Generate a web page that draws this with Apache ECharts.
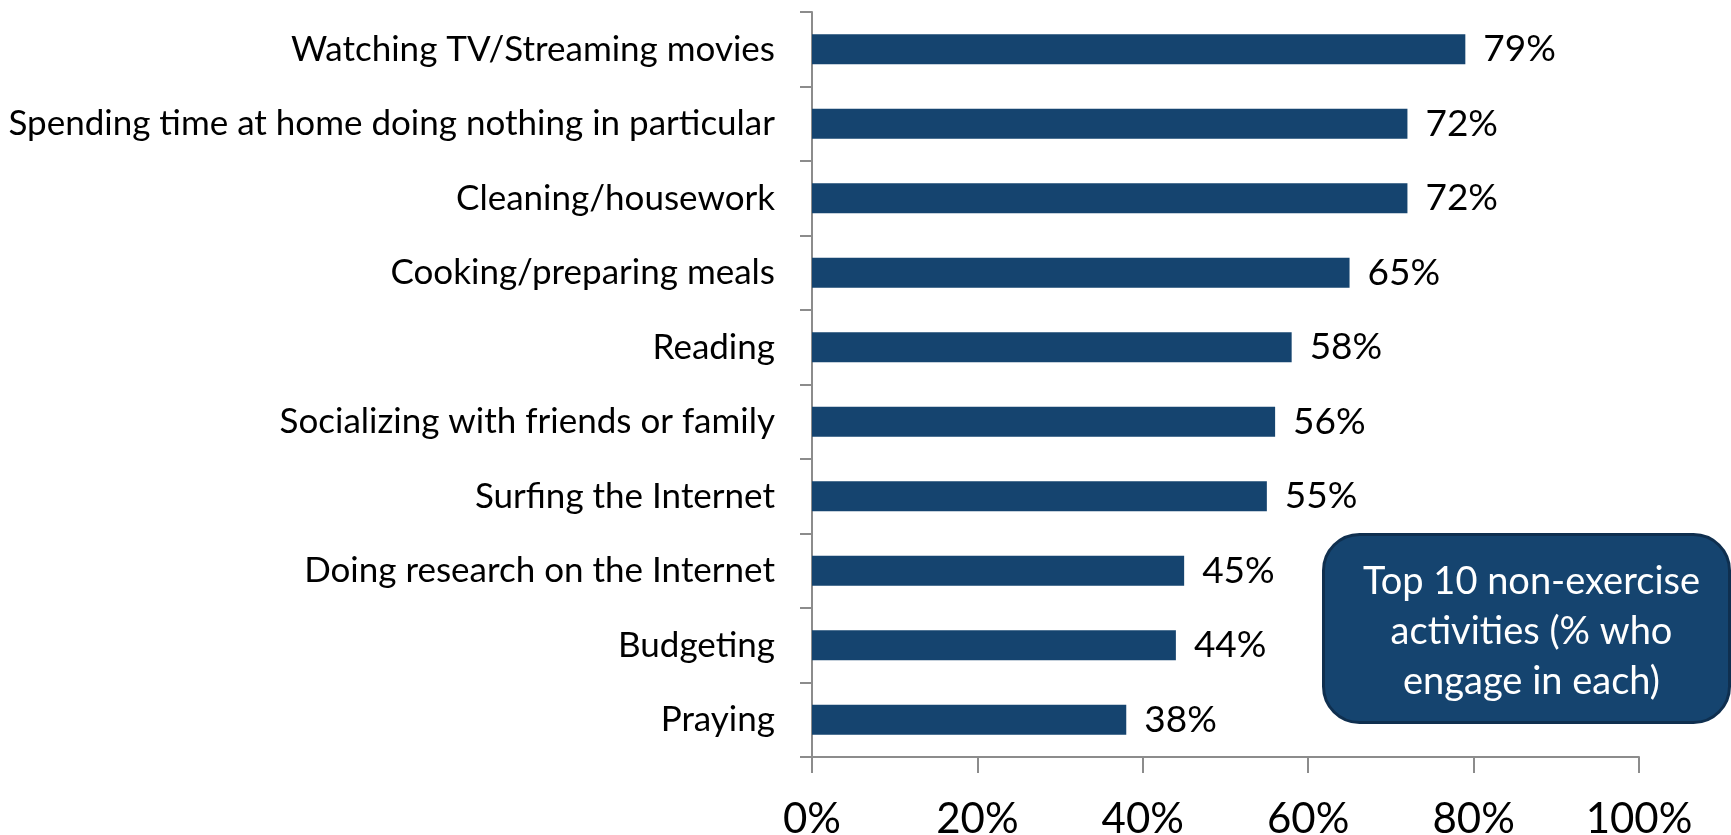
<!DOCTYPE html>
<html>
<head>
<meta charset="utf-8">
<script src="https://cdn.jsdelivr.net/npm/echarts@6/dist/echarts.min.js"></script>
<style>
  html, body { margin: 0; padding: 0; background: #ffffff; }
  #chart { width: 1731px; height: 835px; }
</style>
</head>
<body>
<div id="chart"></div>
<script>
// Activities, listed top to bottom
const categories = [
  'Watching TV/Streaming movies',
  'Spending time at home doing nothing in particular',
  'Cleaning/housework',
  'Cooking/preparing meals',
  'Reading',
  'Socializing with friends or family',
  'Surfing the Internet',
  'Doing research on the Internet',
  'Budgeting',
  'Praying'
];
// Share of respondents who engage in each activity (%)
const shares = [79, 72, 72, 65, 58, 56, 55, 45, 44, 38];
const xTicks = { min: 0, max: 100, step: 20 };
const noteLines = ['Top 10 non-exercise', 'activities (% who', 'engage in each)'];

const FONT = 'Lato, "Open Sans", sans-serif';
const BAR = '#15446f';
const AXIS = '#8c8c8c';

const chart = echarts.init(document.getElementById('chart'), null, { renderer: 'canvas' });

chart.setOption({
  animation: false,
  backgroundColor: '#ffffff',
  grid: {
    left: 812, right: 92, top: 12, bottom: 78,
    containLabel: false,
    outerBoundsMode: 'none'
  },
  xAxis: {
    type: 'value',
    min: xTicks.min,
    max: xTicks.max,
    interval: xTicks.step,
    axisLine: { show: true, lineStyle: { color: AXIS, width: 2 } },
    axisTick: { show: true, length: 16, lineStyle: { color: AXIS, width: 2 } },
    splitLine: { show: false },
    axisLabel: {
      formatter: '{value}%',
      fontFamily: FONT,
      fontSize: 42,
      color: '#000000',
      margin: 41
    }
  },
  yAxis: {
    type: 'category',
    data: categories,
    inverse: true,
    axisLine: { show: true, lineStyle: { color: AXIS, width: 2 } },
    axisTick: { show: true, length: 12, alignWithLabel: false, lineStyle: { color: AXIS, width: 2 } },
    axisLabel: {
      fontFamily: FONT,
      fontSize: 35,
      color: '#000000',
      margin: 37
    }
  },
  series: [{
    type: 'bar',
    data: shares,
    barCategoryGap: '60%',
    itemStyle: { color: BAR },
    label: {
      show: true,
      position: 'right',
      distance: 18,
      formatter: '{c}%',
      fontFamily: FONT,
      fontSize: 37,
      color: '#000000'
    }
  }],
  graphic: [{
    type: 'group',
    left: 1322,
    top: 533,
    children: [{
      type: 'rect',
      shape: { x: 0, y: 0, width: 406, height: 188, r: 36 },
      style: { fill: BAR, stroke: '#0f2f4f', lineWidth: 3 }
    }, {
      type: 'text',
      x: 208,
      y: 97,
      style: {
        text: noteLines.join('\n'),
        fill: '#ffffff',
        font: '38px ' + FONT,
        lineHeight: 50,
        align: 'center',
        verticalAlign: 'middle'
      }
    }]
  }]
});
</script>
</body>
</html>
